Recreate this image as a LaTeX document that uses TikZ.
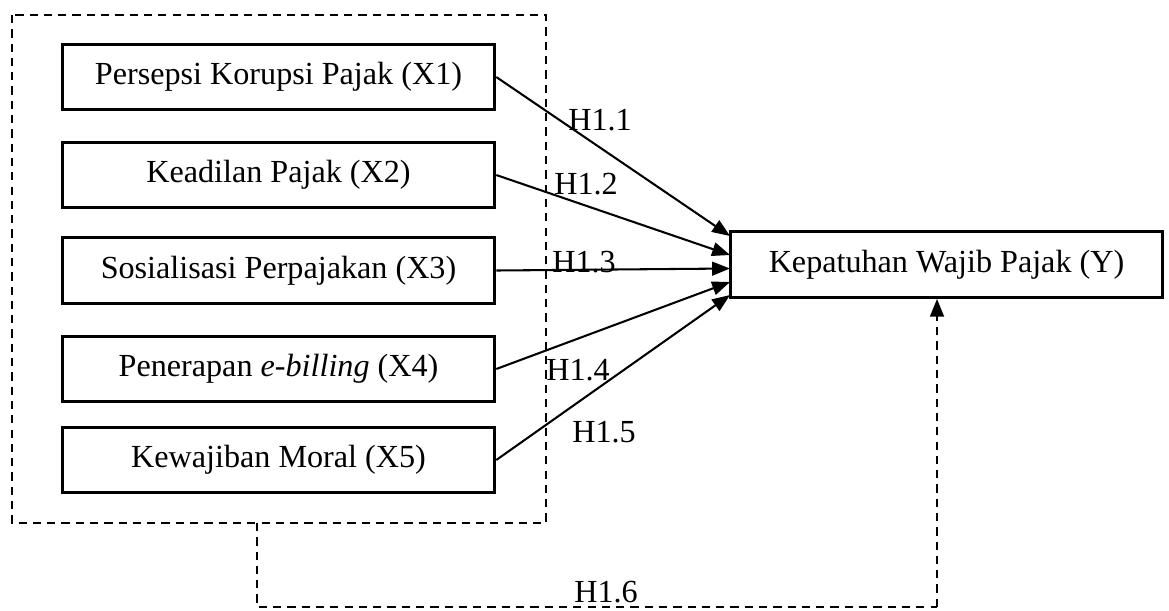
\documentclass[tikz,border=0pt]{standalone}
\usepackage{fontspec}
\setmainfont{Liberation Serif}
\usetikzlibrary{arrows.meta}

\tikzstyle{var} = [draw, line width=1.1pt, minimum width=5.53cm, minimum height=0.84cm, inner sep=0pt, font=\fontsize{11.7}{14}\selectfont]
\tikzstyle{hyp} = [font=\fontsize{11.7}{14}\selectfont, inner sep=0pt]
\tikzstyle{pad} = [line width=0.75pt, -{Triangle[length=6.5pt, width=5pt]}]
\tikzstyle{grp} = [line width=0.95pt, dash pattern=on 3pt off 2.2pt]

\begin{document}
\begin{tikzpicture}[x=0.01278cm, y=-0.01278cm]
\useasboundingbox (0,0) rectangle (1169,610);
%variabel X
\node[var] (x1) at (278.5,77) {Persepsi Korupsi Pajak (X1)};
\node[var] (x2) at (278.5,175) {Keadilan Pajak (X2)};
\node[var] (x3) at (278.5,270.5) {Sosialisasi Perpajakan (X3)};
\node[var] (x4) at (278.5,369) {Penerapan \textit{e-billing} (X4)};
\node[var] (x5) at (278.5,460) {Kewajiban Moral (X5)};
%variabel Y
\node[var] (y) at (946.5,264.5) {Kepatuhan Wajib Pajak (Y)};
%kotak bersama
\coordinate (gnw) at (12,15);
\coordinate (gse) at (546,523);
\draw[grp] (gnw) rectangle (gse);
%titik masuk panah
\coordinate (t1) at (730,236);
\coordinate (t2) at (730,255);
\coordinate (t3) at (730,268.5);
\coordinate (t4) at (730,282);
\coordinate (t5) at (730,295);
%begin panah H1.1-H1.5
\draw[pad] (x1.east) -- (t1);
\draw[pad] (x2.east) -- (t2);
\draw[pad] (x3.east) -- (t3);
\draw[pad] (x4.east) -- (t4);
\draw[pad] (x5.east) -- (t5);
\node[hyp] (h11) at (600,120) {H1.1};
\node[hyp] (h12) at (586,184) {H1.2};
\node[hyp] (h13) at (584,262) {H1.3};
\node[hyp] (h14) at (578,370) {H1.4};
\node[hyp] (h15) at (604,432) {H1.5};
%end panah H1.1-H1.5
%begin panah H1.6
\coordinate (g0) at (257,523);
\coordinate (g1) at (257,607);
\coordinate (g2) at (937,607);
\draw[grp] (g0) -- (g1) -- (g2);
\draw[grp, -{Triangle[length=6.5pt, width=5pt]}] (g2) -- (y.south -| g2);
\node[hyp] (h16) at (606,592) {H1.6};
%end panah H1.6
\end{tikzpicture}
\end{document}
